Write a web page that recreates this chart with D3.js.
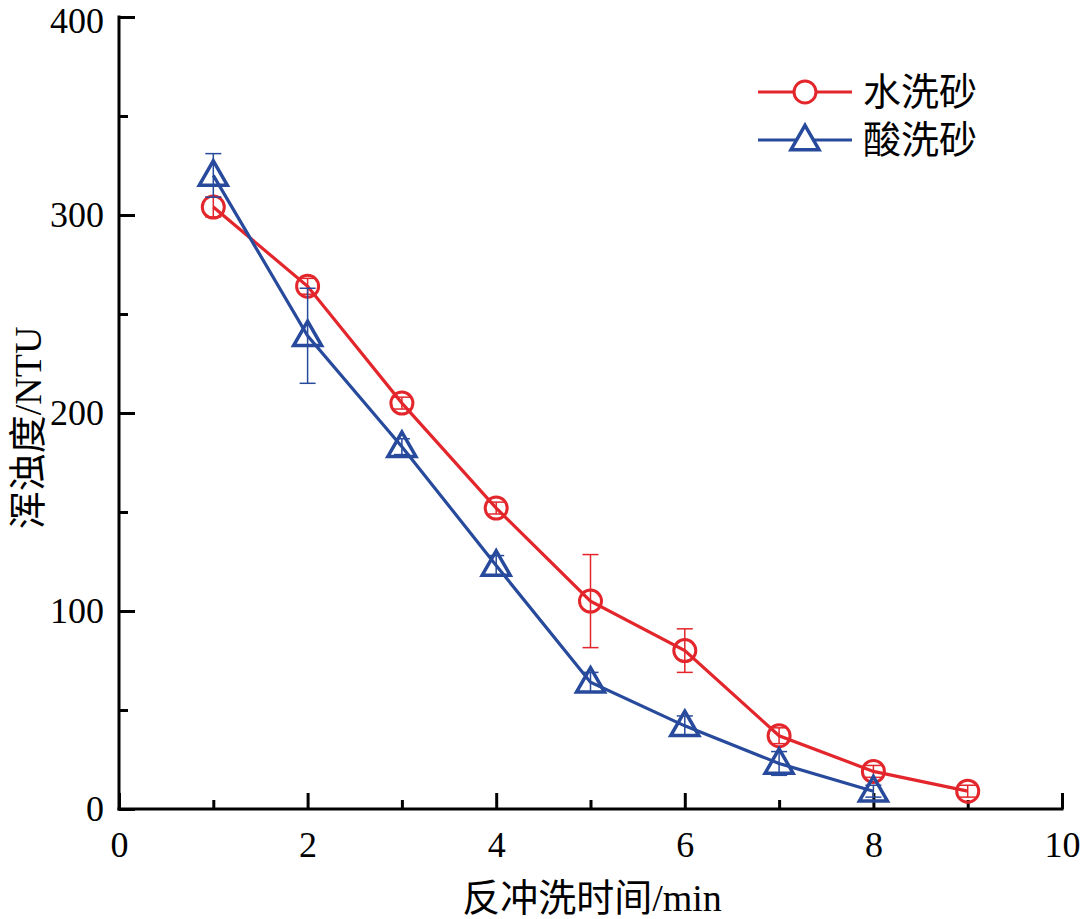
<!DOCTYPE html>
<html><head><meta charset="utf-8">
<script src="https://cdn.jsdelivr.net/npm/d3@7"></script>
<style>body{margin:0;background:#fff}</style>
</head><body>
<script>
const times = [1,2,3,4,5,6,7,8,9];
const waterVals = [304,264,205,152,105,80,37,19,9];
const waterErr  = [5,4,3,3,23.5,11,4,3,3];
const acidTimes = [1,2,3,4,5,6,7,8];
const acidVals  = [320,239,183,123,64,42,23,9];
const acidErr   = [11,24,4,5,5,5,6,3];
const xTicks = [0,2,4,6,8,10];
const yTicks = [0,100,200,300,400];
const seriesNames = ["水洗砂","酸洗砂"];
const xTitle = "反冲洗时间/min";
const yTitle = "浑浊度/NTU";

const W=1080,H=919;
const red="#e3262b", blue="#274a9c";
const svg=d3.select("body").append("svg").attr("width",W).attr("height",H);
const x=d3.scaleLinear().domain([0,10]).range([119,1062]);
const y=d3.scaleLinear().domain([0,400]).range([809,17]);
const serif='"Liberation Serif","Times New Roman",serif';
const cjk='"Liberation Serif","Noto Sans CJK SC",serif';

// axes
const xAxis=d3.axisBottom(x).tickValues(d3.range(0,11,1)).tickSizeInner(-16).tickSizeOuter(0)
  .tickFormat(d=>xTicks.includes(d)?d:"");
const gx=svg.append("g").attr("transform",`translate(0,${y(0)})`).call(xAxis);
gx.select(".domain").attr("stroke","#000").attr("stroke-width",3).attr("d",`M${x(0)-1.5},0H${x(10)+1.5}`);
gx.selectAll(".tick line").attr("stroke","#000").attr("stroke-width",3)
  .attr("y2",d=>xTicks.includes(d)?-16:-9);
gx.selectAll(".tick text").attr("font-family",serif).attr("font-size",36).attr("fill","#000")
  .attr("y",48).attr("dy",0);

const yAxis=d3.axisLeft(y).tickValues(d3.range(0,401,50)).tickSizeInner(-16).tickSizeOuter(0)
  .tickFormat(d=>yTicks.includes(d)?d:"");
const gy=svg.append("g").attr("transform",`translate(${x(0)},0)`).call(yAxis);
gy.select(".domain").attr("stroke","#000").attr("stroke-width",3).attr("d",`M0,${y(0)+1.5}V${y(400)-1.5}`);
gy.selectAll(".tick line").attr("stroke","#000").attr("stroke-width",3)
  .attr("x2",d=>yTicks.includes(d)?16:9);
gy.selectAll(".tick text").attr("font-family",serif).attr("font-size",36).attr("fill","#000").attr("x",-15)
  .attr("dy",d=>d===400?"0.44em":"0.32em");

// titles
svg.append("text").attr("x",592).attr("y",911).attr("text-anchor","middle")
  .attr("font-family",cjk).attr("font-size",38).text(xTitle);
svg.append("text").attr("transform",`translate(41,${(y(0)+y(400))/2+15}) rotate(-90)`).attr("text-anchor","middle")
  .attr("font-family",cjk).attr("font-size",38).text(yTitle);

function drawSeries(xs,vals,errs,color,shape){
  const g=svg.append("g");
  const pts=xs.map((t,i)=>({t,v:vals[i],e:errs[i]}));
  // error bars
  pts.forEach(p=>{
    g.append("line").attr("x1",x(p.t)).attr("x2",x(p.t)).attr("y1",y(p.v-p.e)).attr("y2",y(p.v+p.e))
      .attr("stroke",color).attr("stroke-width",1.5);
    [p.v-p.e,p.v+p.e].forEach(v=>g.append("line").attr("x1",x(p.t)-8).attr("x2",x(p.t)+8)
      .attr("y1",y(v)).attr("y2",y(v)).attr("stroke",color).attr("stroke-width",1.5));
  });
  g.append("path").datum(pts).attr("fill","none").attr("stroke",color).attr("stroke-width",3.2)
    .attr("d",d3.line().x(p=>x(p.t)).y(p=>y(p.v)));
  pts.forEach(p=>marker(g,x(p.t),y(p.v),color,shape,true));
}
function marker(g,cx,cy,color,shape,transp){
  if(shape==="circle"){
    g.append("circle").attr("cx",cx).attr("cy",cy).attr("r",11).attr("fill",transp?"none":"#fff")
      .attr("stroke",color).attr("stroke-width",3);
  } else {
    const s=28,h=s*0.87;
    g.append("path").attr("d",`M${cx},${cy-h*0.6}L${cx+s/2},${cy+h*0.4}L${cx-s/2},${cy+h*0.4}Z`)
      .attr("fill",transp?"none":"#fff").attr("stroke",color).attr("stroke-width",3.5).attr("stroke-linejoin","miter");
  }
}
drawSeries(times,waterVals,waterErr,red,"circle");
drawSeries(acidTimes,acidVals,acidErr,blue,"triangle");

// legend
const leg=[{n:seriesNames[0],c:red,s:"circle",yy:92},{n:seriesNames[1],c:blue,s:"triangle",yy:140}];
leg.forEach(l=>{
  svg.append("line").attr("x1",758).attr("x2",852).attr("y1",l.yy).attr("y2",l.yy).attr("stroke",l.c).attr("stroke-width",3.2);
  marker(svg,805,l.yy,l.c,l.s,false);
  svg.append("text").attr("x",863).attr("y",l.yy+13).attr("font-family",cjk).attr("font-size",38).text(l.n);
});
</script>
</body></html>
